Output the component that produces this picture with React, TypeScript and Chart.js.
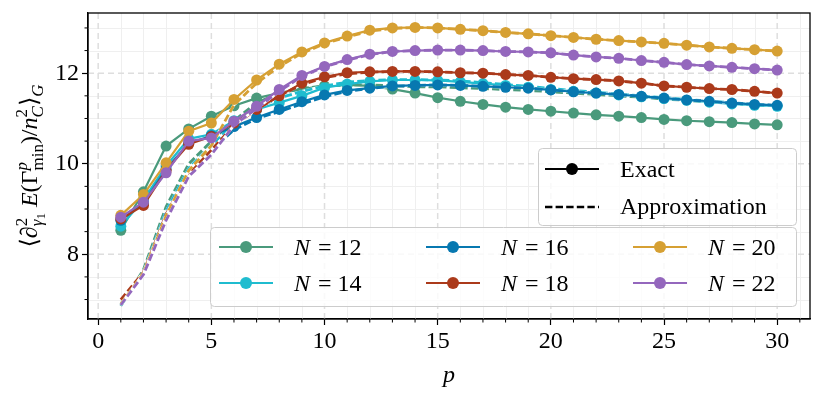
import React, { useEffect, useRef } from 'react';
import { Chart, registerables } from 'chart.js';
Chart.register(...registerables);

// ---------- data ----------
const pValues = [1, 2, 3, 4, 5, 6, 7, 8, 9, 10, 11, 12, 13, 14, 15, 16, 17, 18, 19, 20, 21, 22, 23, 24, 25, 26, 27, 28, 29, 30];
const nLabels = ['12', '14', '16', '18', '20', '22'];
const seriesColors = ['#4a9a7c', '#1fbccf', '#0778b0', '#ab3a1b', '#d6a033', '#9467bd'];

const exactN12 = [8.53, 9.38, 10.39, 10.77, 11.05, 11.28, 11.45, 11.56, 11.65, 11.72, 11.74, 11.72, 11.65, 11.56, 11.46, 11.38, 11.31, 11.25, 11.2, 11.16, 11.12, 11.08, 11.05, 11.02, 10.98, 10.95, 10.93, 10.91, 10.88, 10.86];
const exactN14 = [8.62, 9.2, 9.95, 10.55, 10.65, 10.95, 11.2, 11.35, 11.5, 11.68, 11.76, 11.82, 11.85, 11.85, 11.84, 11.81, 11.77, 11.73, 11.69, 11.64, 11.6, 11.56, 11.52, 11.48, 11.44, 11.4, 11.36, 11.32, 11.29, 11.27];
const exactN16 = [8.75, 9.13, 9.88, 10.45, 10.62, 10.82, 11.02, 11.2, 11.37, 11.52, 11.62, 11.67, 11.72, 11.73, 11.74, 11.73, 11.71, 11.69, 11.67, 11.63, 11.59, 11.56, 11.53, 11.49, 11.45, 11.41, 11.38, 11.34, 11.31, 11.29];
const exactN18 = [8.78, 9.08, 9.85, 10.43, 10.6, 10.9, 11.2, 11.5, 11.78, 11.92, 12.01, 12.03, 12.04, 12.04, 12.03, 12.01, 12.0, 11.97, 11.95, 11.91, 11.88, 11.86, 11.83, 11.78, 11.72, 11.69, 11.66, 11.64, 11.6, 11.56];
const exactN20 = [8.86, 9.32, 10.02, 10.72, 10.9, 11.42, 11.85, 12.2, 12.47, 12.67, 12.82, 12.95, 13.0, 13.01, 13.0, 12.97, 12.94, 12.9, 12.87, 12.83, 12.79, 12.75, 12.72, 12.69, 12.66, 12.62, 12.58, 12.55, 12.52, 12.49];
const exactN22 = [8.82, 9.15, 9.8, 10.5, 10.57, 10.94, 11.27, 11.64, 11.95, 12.15, 12.3, 12.42, 12.48, 12.5, 12.51, 12.51, 12.5, 12.48, 12.47, 12.45, 12.4, 12.36, 12.33, 12.28, 12.24, 12.19, 12.16, 12.13, 12.1, 12.07];

const approxN12 = [6.86, 7.66, 9.05, 10.0, 10.5, 10.95, 11.35, 11.55, 11.66, 11.72, 11.74, 11.74, 11.72, 11.7, 11.7, 11.68, 11.66, 11.64, 11.62, 11.59, 11.56, 11.53, 11.5, 11.47, 11.43, 11.4, 11.37, 11.34, 11.31, 11.28];
const approxN14 = [6.87, 7.6, 8.95, 9.9, 10.4, 10.9, 11.25, 11.45, 11.6, 11.72, 11.8, 11.84, 11.86, 11.86, 11.85, 11.83, 11.79, 11.75, 11.71, 11.66, 11.62, 11.58, 11.54, 11.5, 11.46, 11.42, 11.38, 11.35, 11.31, 11.28];
const approxN16 = [6.9, 7.58, 8.9, 9.82, 10.3, 10.75, 11.0, 11.15, 11.32, 11.48, 11.6, 11.66, 11.71, 11.73, 11.74, 11.73, 11.71, 11.69, 11.67, 11.63, 11.59, 11.56, 11.53, 11.49, 11.45, 11.41, 11.38, 11.34, 11.31, 11.29];
const approxN18 = [7.0, 7.6, 8.88, 9.8, 10.3, 10.85, 11.2, 11.5, 11.75, 11.9, 11.99, 12.02, 12.04, 12.04, 12.03, 12.01, 12.0, 11.97, 11.95, 11.91, 11.88, 11.86, 11.83, 11.78, 11.72, 11.69, 11.66, 11.64, 11.6, 11.56];
const approxN20 = [6.9, 7.58, 8.85, 9.85, 10.4, 11.3, 11.78, 12.15, 12.44, 12.65, 12.8, 12.93, 12.99, 13.01, 13.0, 12.97, 12.94, 12.9, 12.87, 12.83, 12.79, 12.75, 12.72, 12.69, 12.66, 12.62, 12.58, 12.55, 12.52, 12.49];
const approxN22 = [6.88, 7.55, 8.75, 9.72, 10.2, 10.85, 11.22, 11.6, 11.93, 12.14, 12.29, 12.41, 12.48, 12.5, 12.51, 12.51, 12.5, 12.48, 12.47, 12.45, 12.4, 12.36, 12.33, 12.28, 12.24, 12.19, 12.16, 12.13, 12.1, 12.07];

const exactSeries = [exactN12, exactN14, exactN16, exactN18, exactN20, exactN22];
const approxSeries = [approxN12, approxN14, approxN16, approxN18, approxN20, approxN22];

const xMajorTicks = [0, 5, 10, 15, 20, 25, 30];
const xMinorTicks = [1, 2, 3, 4, 6, 7, 8, 9, 11, 12, 13, 14, 16, 17, 18, 19, 21, 22, 23, 24, 26, 27, 28, 29, 31];
const yMajorTicks = [8, 10, 12];
const yMinorTicks = [7, 7.5, 8.5, 9, 9.5, 10.5, 11, 11.5, 12.5, 13];
const xRange = [-0.45, 31.45];
const yRange = [6.57, 13.33];

const styleLabels = ['Exact', 'Approximation'];

// ---------- styling ----------
const FONT = "'Liberation Serif', 'DejaVu Serif', serif";
const FS = 24;
const DASH = [7.4, 3.2];
const LW = 2.2;
const DLW = 2.8;
const PR = 5.5;

type Run = { t: string; it?: boolean; sz: number; dy: number };
type Item = Run | { sup: Run[]; sub: Run[] };

function setFont(ctx: CanvasRenderingContext2D, r: Run) {
  ctx.font = `${r.it ? 'italic ' : ''}${r.sz}px ${FONT}`;
}
function runsWidth(ctx: CanvasRenderingContext2D, runs: Run[]) {
  let w = 0;
  for (const r of runs) { setFont(ctx, r); w += ctx.measureText(r.t).width; }
  return w;
}
function itemWidth(ctx: CanvasRenderingContext2D, it: Item) {
  if ('sup' in it) return Math.max(runsWidth(ctx, it.sup), runsWidth(ctx, it.sub));
  return runsWidth(ctx, [it]);
}
function drawRuns(ctx: CanvasRenderingContext2D, runs: Run[], x: number, y: number) {
  for (const r of runs) {
    setFont(ctx, r);
    ctx.fillText(r.t, x, y + r.dy);
    x += ctx.measureText(r.t).width;
  }
}
function drawItems(ctx: CanvasRenderingContext2D, items: Item[], x: number, y: number) {
  for (const it of items) {
    if ('sup' in it) {
      drawRuns(ctx, it.sup, x, y);
      drawRuns(ctx, it.sub, x, y);
    } else {
      drawRuns(ctx, [it], x, y);
    }
    x += itemWidth(ctx, it);
  }
}
function totalWidth(ctx: CanvasRenderingContext2D, items: Item[]) {
  return items.reduce((a, it) => a + itemWidth(ctx, it), 0);
}

const S = 24, s = 17, ss = 13;
const yTitle: Item[] = [
  { t: '⟨', sz: S, dy: 0 },
  { t: '∂', it: true, sz: S, dy: 0 },
  { sup: [{ t: '2', sz: s, dy: -10 }], sub: [{ t: 'γ', it: true, sz: s, dy: 5 }, { t: '1', sz: ss, dy: 8 }] },
  { t: ' E', it: true, sz: S, dy: 0 },
  { t: '(Γ', sz: S, dy: 0 },
  { sup: [{ t: 'p', it: true, sz: s, dy: -10 }], sub: [{ t: 'min', sz: s, dy: 6 }] },
  { t: ')/', sz: S, dy: 0 },
  { t: 'n', it: true, sz: S, dy: 0 },
  { sup: [{ t: '2', sz: s, dy: -10 }], sub: [{ t: 'C', it: true, sz: s, dy: 6 }] },
  { t: '⟩', sz: S, dy: 0 },
  { t: 'G', it: true, sz: s, dy: 6 },
];

function roundRect(ctx: CanvasRenderingContext2D, x: number, y: number, w: number, h: number, r: number) {
  ctx.beginPath();
  ctx.moveTo(x + r, y);
  ctx.lineTo(x + w - r, y);
  ctx.arcTo(x + w, y, x + w, y + r, r);
  ctx.lineTo(x + w, y + h - r);
  ctx.arcTo(x + w, y + h, x + w - r, y + h, r);
  ctx.lineTo(x + r, y + h);
  ctx.arcTo(x, y + h, x, y + h - r, r);
  ctx.lineTo(x, y + r);
  ctx.arcTo(x, y, x + r, y, r);
  ctx.closePath();
}

function legendHandle(ctx: CanvasRenderingContext2D, x: number, y: number, color: string, dashed: boolean, marker: boolean) {
  ctx.save();
  ctx.strokeStyle = color;
  ctx.lineWidth = dashed ? 2.4 : LW;
  if (dashed) ctx.setLineDash(DASH);
  ctx.beginPath();
  ctx.moveTo(x, y);
  ctx.lineTo(x + 54, y);
  ctx.stroke();
  ctx.setLineDash([]);
  if (marker) {
    ctx.fillStyle = color;
    ctx.beginPath();
    ctx.arc(x + 27, y, 6, 0, Math.PI * 2);
    ctx.fill();
  }
  ctx.restore();
}

const decoPlugin = {
  id: 'deco',
  beforeDatasetsDraw(chart: any) {
    const { ctx, chartArea: a, scales } = chart;
    const xs = scales.x, ys = scales.y;
    ctx.save();
    ctx.beginPath();
    ctx.rect(a.left, a.top, a.right - a.left, a.bottom - a.top);
    ctx.clip();
    ctx.strokeStyle = '#efefef';
    ctx.lineWidth = 1;
    for (const v of xMinorTicks) {
      const px = Math.round(xs.getPixelForValue(v)) + 0.5;
      ctx.beginPath(); ctx.moveTo(px, a.top); ctx.lineTo(px, a.bottom); ctx.stroke();
    }
    for (const v of yMinorTicks) {
      const py = Math.round(ys.getPixelForValue(v)) + 0.5;
      ctx.beginPath(); ctx.moveTo(a.left, py); ctx.lineTo(a.right, py); ctx.stroke();
    }
    ctx.strokeStyle = '#dedede';
    ctx.lineWidth = 1.5;
    ctx.setLineDash([6, 4]);
    for (const v of xMajorTicks) {
      const px = xs.getPixelForValue(v);
      ctx.beginPath(); ctx.moveTo(px, a.bottom); ctx.lineTo(px, a.top); ctx.stroke();
    }
    for (const v of yMajorTicks) {
      const py = ys.getPixelForValue(v);
      ctx.beginPath(); ctx.moveTo(a.left, py); ctx.lineTo(a.right, py); ctx.stroke();
    }
    ctx.restore();
  },
  afterDraw(chart: any) {
    const { ctx, chartArea: a, scales } = chart;
    const xs = scales.x, ys = scales.y;
    ctx.save();
    // frame
    ctx.strokeStyle = '#000';
    ctx.lineWidth = 1.3;
    ctx.strokeRect(a.left, a.top, a.right - a.left, a.bottom - a.top);
    // minor ticks
    ctx.lineWidth = 1;
    for (const v of xMinorTicks) {
      const px = xs.getPixelForValue(v);
      ctx.beginPath(); ctx.moveTo(px, a.bottom); ctx.lineTo(px, a.bottom + 3.5); ctx.stroke();
    }
    for (const v of yMinorTicks) {
      const py = ys.getPixelForValue(v);
      ctx.beginPath(); ctx.moveTo(a.left, py); ctx.lineTo(a.left - 3.5, py); ctx.stroke();
    }
    // x title
    ctx.fillStyle = '#000';
    ctx.textAlign = 'center';
    ctx.textBaseline = 'alphabetic';
    ctx.font = `italic ${FS}px ${FONT}`;
    ctx.fillText('p', (a.left + a.right) / 2, 382);
    // y title
    ctx.textAlign = 'left';
    ctx.save();
    ctx.translate(37, (a.top + a.bottom) / 2);
    ctx.rotate(-Math.PI / 2);
    const tw = totalWidth(ctx, yTitle);
    drawItems(ctx, yTitle, -tw / 2, 0);
    ctx.restore();

    // style legend
    ctx.fillStyle = 'rgba(255,255,255,0.8)';
    ctx.strokeStyle = '#cccccc';
    ctx.lineWidth = 1;
    roundRect(ctx, 538.5, 148.5, 258, 77, 4);
    ctx.fill(); ctx.stroke();
    legendHandle(ctx, 545, 169, '#000', false, true);
    legendHandle(ctx, 545, 207, '#000', true, false);
    ctx.fillStyle = '#000';
    ctx.font = `${FS}px ${FONT}`;
    ctx.textBaseline = 'alphabetic';
    ctx.fillText(styleLabels[0], 620, 177);
    ctx.fillText(styleLabels[1], 620, 214);

    // N legend
    ctx.fillStyle = 'rgba(255,255,255,0.8)';
    roundRect(ctx, 210.5, 227.5, 586, 79, 4);
    ctx.fill(); ctx.stroke();
    nLabels.forEach((n, i) => {
      const col = Math.floor(i / 2), row = i % 2;
      const x0 = 219 + col * 207;
      const y0 = 247 + row * 36;
      legendHandle(ctx, x0, y0, seriesColors[i], false, true);
      ctx.fillStyle = '#000';
      ctx.font = `italic ${FS}px ${FONT}`;
      const tx = x0 + 75;
      ctx.fillText('N', tx, y0 + 8);
      const wN = ctx.measureText('N').width;
      ctx.font = `${FS}px ${FONT}`;
      ctx.fillText(` = ${n}`, tx + wN + 2, y0 + 8);
    });
    ctx.restore();
  },
};

export default function App() {
  const ref = useRef<HTMLCanvasElement>(null);
  useEffect(() => {
    document.body.style.margin = '0';
    const datasets: any[] = [];
    exactSeries.forEach((ex, i) => {
      const c = seriesColors[i];
      datasets.push({
        label: `N = ${nLabels[i]} approx gap`,
        data: pValues.map((p, k) => ({ x: p, y: approxSeries[i][k] })),
        borderColor: '#ffffff', borderWidth: DLW, pointRadius: 0,
      });
      datasets.push({
        label: `N = ${nLabels[i]} approx`,
        data: pValues.map((p, k) => ({ x: p, y: approxSeries[i][k] })),
        borderColor: c, borderWidth: DLW, pointRadius: 0, borderDash: DASH,
      });
      datasets.push({
        label: `N = ${nLabels[i]} exact`,
        data: pValues.map((p, k) => ({ x: p, y: ex[k] })),
        borderColor: c, backgroundColor: c,
        pointBackgroundColor: c, pointBorderColor: c,
        borderWidth: LW, pointRadius: PR, pointBorderWidth: 0,
      });
    });
    datasets.forEach((d, idx) => { d.order = datasets.length - idx; d.fill = false; d.tension = 0; });

    const chart = new Chart(ref.current!, {
      type: 'line',
      data: { datasets },
      options: {
        responsive: false,
        animation: false,
        events: [],
        layout: { padding: { top: 13, right: 13, left: 0, bottom: 0 } },
        plugins: { legend: { display: false }, tooltip: { enabled: false } },
        scales: {
          x: {
            type: 'linear', min: xRange[0], max: xRange[1],
            afterBuildTicks: (sc: any) => { sc.ticks = xMajorTicks.map((v) => ({ value: v })); },
            afterFit: (sc: any) => { sc.height = 80; sc.paddingLeft = 0; sc.paddingRight = 0; },
            grid: { display: true, drawOnChartArea: false, drawTicks: true, tickLength: 6, tickColor: '#000', tickWidth: 1.2 },
            border: { display: true, color: '#000', width: 1.3 },
            ticks: { font: { family: FONT, size: FS }, color: '#000', padding: 2, maxRotation: 0, autoSkip: false, callback: (v: any) => String(v) },
          },
          y: {
            type: 'linear', min: yRange[0], max: yRange[1],
            afterBuildTicks: (sc: any) => { sc.ticks = yMajorTicks.map((v) => ({ value: v })); },
            afterFit: (sc: any) => { sc.width = 88; sc.paddingTop = 0; sc.paddingBottom = 0; },
            grid: { display: true, drawOnChartArea: false, drawTicks: true, tickLength: 6, tickColor: '#000', tickWidth: 1.2 },
            border: { display: true, color: '#000', width: 1.3 },
            ticks: { font: { family: FONT, size: FS }, color: '#000', padding: 3, autoSkip: false, callback: (v: any) => String(v) },
          },
        },
      },
      plugins: [decoPlugin],
    } as any);
    return () => chart.destroy();
  }, []);
  return (
    <div style={{ position: 'relative', width: 823, height: 399 }}>
      <canvas ref={ref} width={823} height={399} style={{ display: 'block' }} />
    </div>
  );
}
